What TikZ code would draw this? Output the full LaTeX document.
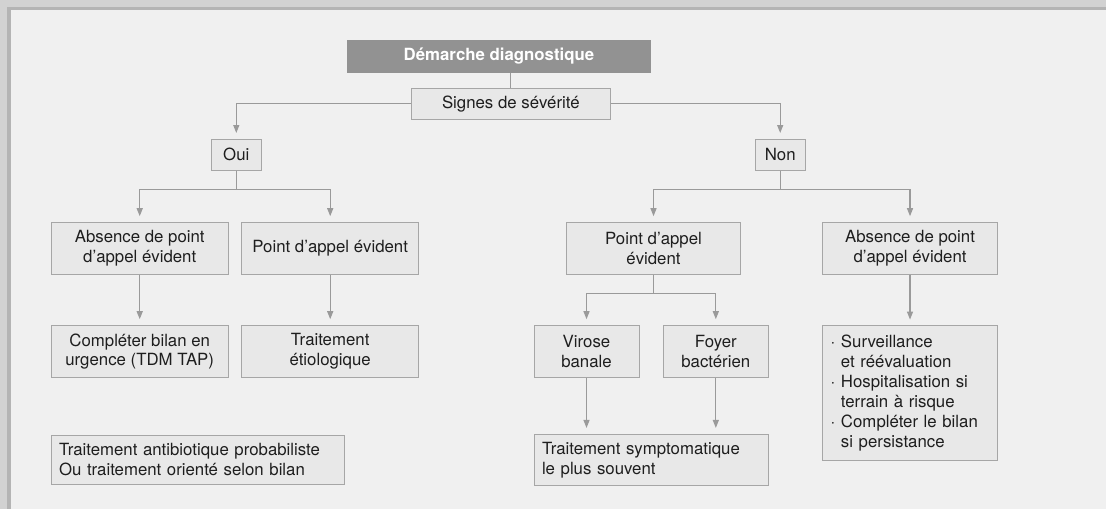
\documentclass[tikz,border=0pt]{standalone}
\usepackage{fontspec}
\setmainfont{TeX Gyre Heros}
\usetikzlibrary{arrows.meta}

\definecolor{panelbg}{HTML}{F0F0F0}
\definecolor{outerbg}{HTML}{D2D2D2}
\definecolor{rimgray}{HTML}{B4B4B4}
\definecolor{boxfill}{HTML}{E8E8E8}
\definecolor{boxline}{HTML}{A6A6A6}
\definecolor{headfill}{HTML}{929292}
\definecolor{linkgray}{HTML}{9A9A9A}
\definecolor{inkgray}{HTML}{1E1E1E}

\begin{document}
\begin{tikzpicture}[x=0.5pt,y=-0.5pt]
\tikzset{
  box/.style={draw=boxline,fill=boxfill,line width=0.5pt,inner sep=0pt,align=center,text=inkgray,font=\fontsize{8.4}{9.7}\selectfont},
  headbox/.style={fill=headfill,inner sep=0pt,text=white,font=\fontsize{8.4}{9.7}\selectfont\bfseries},
  listbox/.style={box,align=left,inner sep=4pt,font=\fontsize{8.4}{10}\selectfont},
  link/.style={draw=linkgray,line width=0.6pt},
  arrowlink/.style={link,-{Triangle[length=4pt,width=3pt]},shorten >=2.8pt}
}
% frame
\fill[outerbg] (0,0) rectangle (1106,509);
\fill[rimgray] (7,7) rectangle (1106,10);
\fill[rimgray] (7,7) rectangle (11,509);
\fill[panelbg] (11,10) rectangle (1106,509);
\useasboundingbox (0,0) rectangle (1106,509);

% top
\node[headbox,minimum width=152pt,minimum height=16.5pt] (n_dem) at (499,56.5) {Démarche diagnostique};
\node[box,minimum width=99.5pt,minimum height=15.6pt] (n_sev) at (510.8,103.7) {Signes de sévérité};
\node[box,minimum width=25pt,minimum height=15.6pt] (n_oui) at (236.3,154.7) {Oui};
\node[box,minimum width=25pt,minimum height=15.6pt] (n_non) at (780.2,154.7) {Non};

% oui
\node[box,minimum width=88.5pt,minimum height=26pt] (n_a1) at (139.7,248.3) {Absence de point\\d’appel évident};
\node[box,minimum width=88.5pt,minimum height=26pt] (n_a2) at (330.2,248.3) {Point d’appel évident};
\node[box,minimum width=88.5pt,minimum height=26pt] (n_b1) at (139.7,351.3) {Compléter bilan en\\urgence (TDM TAP)};
\node[box,minimum width=88.5pt,minimum height=26pt] (n_b2) at (330.2,351.3) {Traitement\\étiologique};
\node[listbox,text width=138.5pt,minimum height=24.3pt] (n_atb) at (197.5,460) {Traitement antibiotique probabiliste\\Ou traitement orienté selon bilan};

% non
\node[box,minimum width=87.2pt,minimum height=26pt] (n_c1) at (653.5,248.3) {Point d’appel\\évident};
\node[box,minimum width=87.3pt,minimum height=26pt] (n_c2) at (910,248.3) {Absence de point\\d’appel évident};
\node[box,minimum width=52.5pt,minimum height=26pt] (n_d1) at (586.5,351.3) {Virose\\banale};
\node[box,minimum width=52.5pt,minimum height=26pt] (n_d2) at (715.8,351.3) {Foyer\\bactérien};
\node[listbox,text width=109.2pt,minimum height=24.3pt] (n_e) at (651.2,460) {Traitement symptomatique\\le plus souvent};
\node[listbox,text width=79.3pt,minimum height=67.3pt] (n_f) at (910,393) {\textperiodcentered\ Surveillance\\\hphantom{\textperiodcentered\ }et réévaluation\\\textperiodcentered\ Hospitalisation si\\\hphantom{\textperiodcentered\ }terrain à risque\\\textperiodcentered\ Compléter le bilan\\\hphantom{\textperiodcentered\ }si persistance};

% connectors
\draw[link] (n_sev.north) -- (n_sev.north |- n_dem.south);
\draw[arrowlink] (n_sev.west) -| (n_oui.north);
\draw[arrowlink] (n_sev.east) -| (n_non.north);
\draw[arrowlink] (n_oui.south) -- ++(0,18.5) -| (n_a1.north);
\draw[arrowlink] (n_oui.south) -- ++(0,18.5) -| (n_a2.north);
\draw[arrowlink] (n_a1) -- (n_b1);
\draw[arrowlink] (n_a2) -- (n_b2);
\draw[arrowlink] (n_non.south) -- ++(0,18.5) -| (n_c1.north);
\draw[arrowlink] (n_non.south) -- ++(0,18.5) -| (n_c2.north);
\draw[arrowlink] (n_c1.south) -- ++(0,19) -| (n_d1.north);
\draw[arrowlink] (n_c1.south) -- ++(0,19) -| (n_d2.north);
\draw[arrowlink] (n_d1.south) -- (n_d1.south |- n_e.north);
\draw[arrowlink] (n_d2.south) -- (n_d2.south |- n_e.north);
\draw[arrowlink] (n_c2) -- (n_f);
\end{tikzpicture}
\end{document}
